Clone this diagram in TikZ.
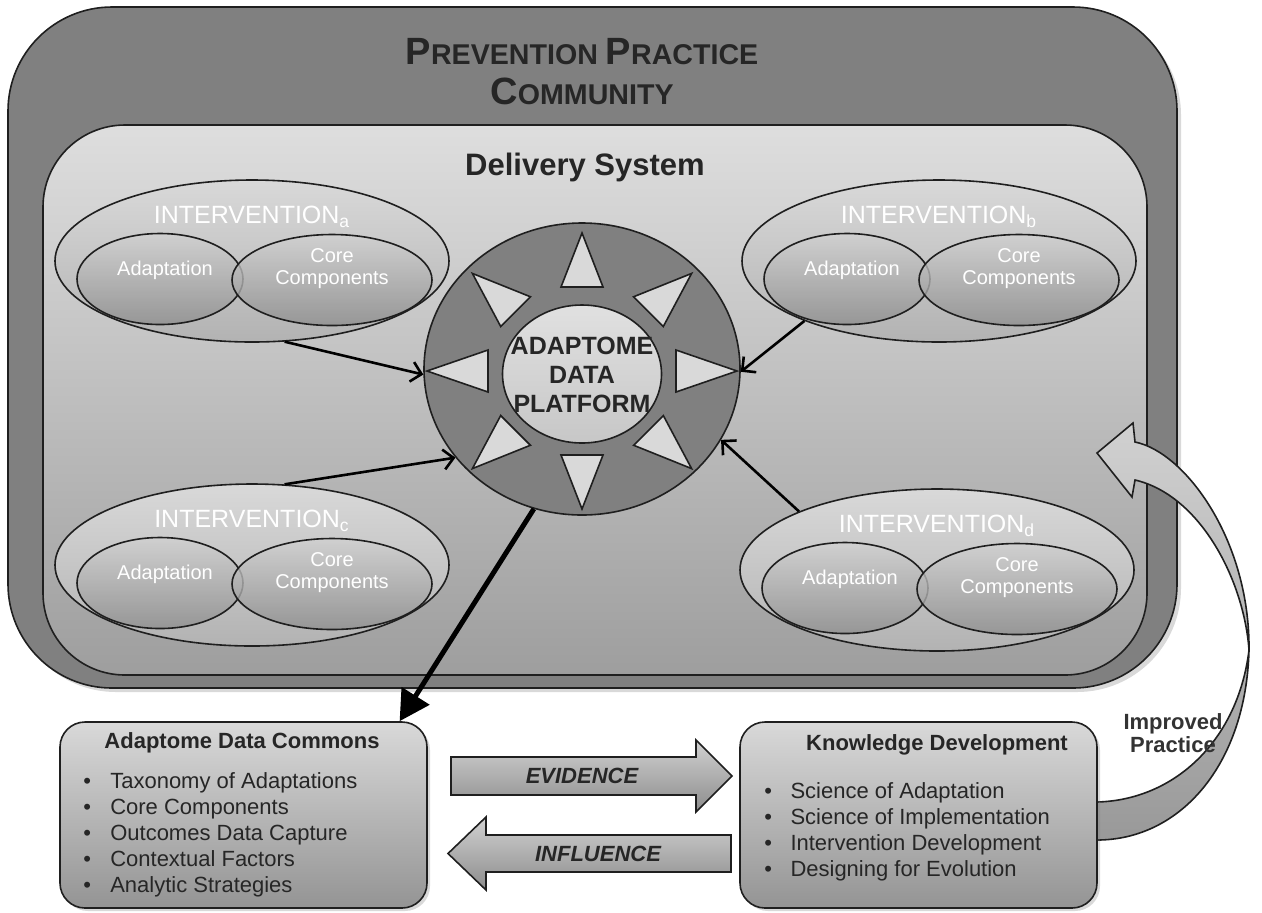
\documentclass[tikz,border=0pt]{standalone}
\usepackage{fontspec}
\setmainfont{Liberation Sans}
\usetikzlibrary{arrows.meta,shapes.geometric,shadows}

\definecolor{edge}{gray}{0.12}
\definecolor{band}{gray}{0.5}

\begin{document}
\begin{tikzpicture}[x=0.5pt,y=-0.5pt,
    every node/.style={inner sep=0pt},
    rim/.style={draw=edge,line width=0.8pt},
    wrap/.style={rim,ellipse,minimum width=197pt,minimum height=81pt,top color=black!15,bottom color=black!30},
    part/.style={rim,ellipse,minimum width=83pt,minimum height=45.5pt,top color=black!18,bottom color=black!44,fill opacity=0.8},
    grouptitle/.style={text=white,font=\fontsize{12.5}{14}\selectfont},
    parttext/.style={text=white,align=center,font=\fontsize{10}{11}\selectfont},
    tri/.style={rim,fill=black!15},
    feed/.style={line width=1.3pt,-{Straight Barb[length=5pt,width=10pt]}},
    box/.style={rim,rounded corners=12.5pt,top color=black!15,bottom color=black!42,
      drop shadow={opacity=0.3,shadow xshift=1.5pt,shadow yshift=-1.5pt}},
    boxtitle/.style={text=black!85,font=\bfseries\fontsize{11}{13}\selectfont},
    boxlist/.style={text=black!85,align=left,anchor=north west,font=\fontsize{11}{13}\selectfont},
    blockarrow/.style={rim,top color=black!18,bottom color=black!45},
    arrowtext/.style={text=black!85,font=\bfseries\itshape\fontsize{11}{13}\selectfont}]
    \useasboundingbox (0,0) rectangle (1262,912);

    % community and delivery system
    \node[rim,fill=band,rounded corners=52pt,minimum width=584.5pt,minimum height=340.5pt,
      drop shadow={opacity=0.3,shadow xshift=2pt,shadow yshift=-2pt}] (community) at (592.5,347.5) {};
    \node[rim,rounded corners=41pt,minimum width=552pt,minimum height=275pt,
      top color=black!13,bottom color=black!38] (delivery) at (595,400) {};
    \node[text=black!85,align=center,font=\bfseries\fontsize{14.3}{20}\selectfont] (commtitle) at (582,72)
      {{\fontsize{19}{20}\selectfont P}REVENTION {\fontsize{19}{20}\selectfont P}RACTICE\\{\fontsize{19}{20}\selectfont C}OMMUNITY};
    \node[text=black!85,font=\bfseries\fontsize{15.5}{18}\selectfont] (deltitle) at (585,167) {Delivery System};

    % the four interventions
    \foreach \n/\x/\y in {a/252/261, b/939/261, c/252/565, d/937/570} {
      \node[wrap] (i\n) at (\x,\y) {};
      \node[part] (adapt\n) at (\x-92,\y+18) {};
      \node[part,minimum width=100pt] (core\n) at (\x+80,\y+19) {};
      \node[grouptitle] (t\n) at (\x,\y-44) {INTERVENTION\textsubscript{\n}};
      \node[parttext] (ta\n) at (\x-87,\y+9) {Adaptation};
      \node[parttext] (tc\n) at (\x+80,\y+8) {Core\\Components};
    }

    % platform
    \node[rim,ellipse,fill=band,minimum width=158pt,minimum height=146pt] (hub) at (582,369) {};
    \foreach \a in {0,45,...,315}
      \draw[tri] ({582+155*cos(\a)},{371-138*sin(\a)})
        -- ({582+94*cos(\a)+21*sin(\a)},{371-84*sin(\a)+21*cos(\a)})
        -- ({582+94*cos(\a)-21*sin(\a)},{371-84*sin(\a)-21*cos(\a)}) -- cycle;
    \node[rim,ellipse,top color=black!12,bottom color=black!22,minimum width=79.5pt,minimum height=69pt] (platform) at (582,374) {};
    \node[text=black!85,align=center,font=\bfseries\fontsize{12.5}{14.5}\selectfont] (hubtext) at (582,375) {ADAPTOME\\DATA\\PLATFORM};

    % improved practice
    \draw[rim,top color=black!18,bottom color=black!40]
      (1135,442) .. controls (1185,452) and (1250,540) .. (1249,650)
      .. controls (1246,765) and (1180,840) .. (1097,840)
      -- (1097,802)
      .. controls (1175,800) and (1238,740) .. (1249,650)
      .. controls (1244,580) and (1200,495) .. (1135,480)
      -- (1132,497) -- (1097,453) -- (1133,423) -- cycle;

    % commons and knowledge
    \node[box,minimum width=183.5pt,minimum height=93pt] (commons) at (243.5,815) {};
    \node[box,minimum width=178.5pt,minimum height=93pt] (knowledge) at (918.5,815) {};
    \node[boxtitle] (commonstitle) at (242,743) {Adaptome Data Commons};
    \node[boxtitle] (knowtitle) at (937,745) {Knowledge Development};
    \node[boxlist] (commonslist) at (83,772) {\textbullet\hspace{9.6pt}Taxonomy of Adaptations\\
      \textbullet\hspace{9.6pt}Core Components\\
      \textbullet\hspace{9.6pt}Outcomes Data Capture\\
      \textbullet\hspace{9.6pt}Contextual Factors\\
      \textbullet\hspace{9.6pt}Analytic Strategies};
    \node[boxlist] (knowlist) at (764,782) {\textbullet\hspace{9.2pt}Science of Adaptation\\
      \textbullet\hspace{9.2pt}Science of Implementation\\
      \textbullet\hspace{9.2pt}Intervention Development\\
      \textbullet\hspace{9.2pt}Designing for Evolution};

    % evidence and influence
    \draw[blockarrow] (451,757) -- (696,757) -- (696,740) -- (732,776) -- (696,812) -- (696,795) -- (451,795) -- cycle;
    \draw[blockarrow] (731,835) -- (486,835) -- (486,817) -- (448,853.5) -- (486,890) -- (486,872) -- (731,872) -- cycle;
    \node[arrowtext] (evidence) at (582,776) {EVIDENCE};
    \node[arrowtext] (influence) at (598,854) {INFLUENCE};

    % connectors
    \draw[feed] (ia.-68) -- (hub.182);
    \draw[feed] (ic.68) -- (hub.215);
    \draw[feed] (ib.204) -- (hub.-1.5);
    \draw[feed] (id.157) -- (hub.-27);
    \draw[line width=2.5pt,-{Triangle[length=15pt,width=16pt]}] (hub.251) -- (commons.31);

    \node[text=black!80,align=center,font=\bfseries\fontsize{11}{11.5}\selectfont] (improved) at (1173,733) {Improved\\Practice};
\end{tikzpicture}
\end{document}
